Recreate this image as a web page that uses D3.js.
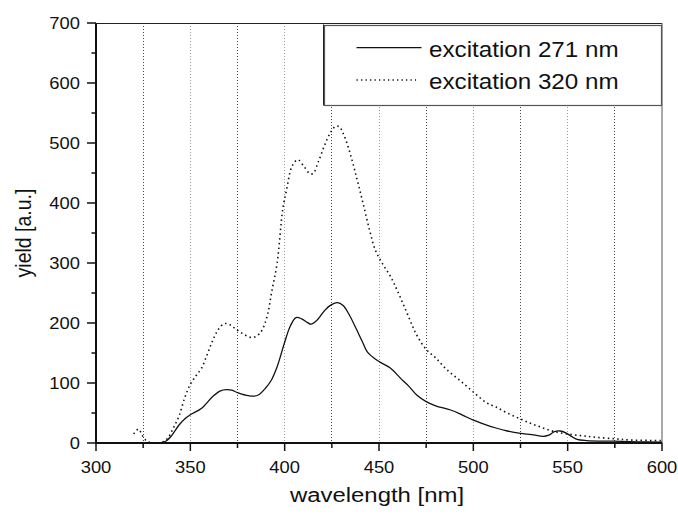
<!DOCTYPE html>
<html><head><meta charset="utf-8">
<script src="https://cdn.jsdelivr.net/npm/d3@7"></script>
<style>body{margin:0;background:#fff}svg{display:block}text{font-family:"Liberation Sans",Arial,sans-serif;fill:#111}</style>
</head><body><svg id="c" width="678" height="516"></svg>
<script>
const xTicks = [300,350,400,450,500,550,600];
const xMinor = [325,375,425,475,525,575];
const yTicks = [0,100,200,300,400,500,600,700];
const yMinor = [50,150,250,350,450,550,650];
const seriesNames = ["excitation 271 nm","excitation 320 nm"];
const wl271 = [300,320,330,334,337,340,344,347,350,356,362,366,369,372,375,379,383,386,390,393,396,400,403,406,409,412,414,417,421,424,428,431,434,438,441,444,448,451,456,462,466,470,475,480,488,494,500,506,512,518,525,531,537,540,543,546,549,552,555,560,574,587,600];
const y271  = [0,0,0,0.5,3,12,30,40,47,58,78,87,89,88,84,80,78,80,92,105,127,168,195,209,207,201,198,204,220,229,234,229,215,190,170,151,140,134,125,106,94,80,69,62,55,47,38,31,25,20,16,14,11,13,19,20,17,11,6,4,3,2,1.5];
const wl320 = [320,322.5,325,327,330,335,338,341,344,347,350,353,356,359,362,365,368,371,374,378,382,385,388,391,393,396,399,401,404,407,410,413,415,418,421,424,427,429,431,434,438,441.5,445,448,452,456,460,466,470,475,480,486,493,500,507,512,518,525,531,537,543,550,558,565,575,583,600];
const y320  = [15,23,10,3,0.5,1,8,25,45,75,98,112,125,148,172,190,199,197,190,182,176,178,188,215,250,300,390,422,462,472,462,450,449,470,495,516,528,527,516,490,444,400,355,322,298,278,252,208,180,156,142,122,104,85,67,60,50,40,32,25,19,15,12,9.5,7,5,4];

const svg = d3.select("#c");
const x = d3.scaleLinear().domain([300,600]).range([96,662]);
const y = d3.scaleLinear().domain([0,700]).range([443,23]);

function stext(g, txt, tx, ty, size, sx, anchor, rot){
  const t = g.append("g").attr("transform",`translate(${tx},${ty}) scale(${sx},1)` + (rot?` rotate(${rot})`:""))
    .append("text").attr("font-size",size).attr("text-anchor",anchor||"start").text(txt);
  return t;
}

// grid
svg.append("g").selectAll("line").data(xMinor.concat(xTicks.slice(1,-1))).join("line")
  .attr("x1",d=>x(d)).attr("x2",d=>x(d)).attr("y1",y(700)).attr("y2",y(0))
  .attr("stroke",d=>xMinor.includes(d)?"#444":"#999").attr("stroke-width",1)
  .attr("stroke-dasharray","1,2").attr("shape-rendering","crispEdges");

// frame
svg.append("line").attr("x1",x(300)).attr("x2",x(600)).attr("y1",y(700)+0.5).attr("y2",y(700)+0.5).attr("stroke","#222").attr("stroke-width",1);
svg.append("line").attr("x1",x(600)).attr("x2",x(600)).attr("y1",y(700)).attr("y2",y(0)).attr("stroke","#555").attr("stroke-width",1);

// curves
const line = d3.line().x(d=>x(d[0])).y(d=>y(d[1])).curve(d3.curveCatmullRom.alpha(0.5));
svg.append("path").datum(wl320.map((w,i)=>[w,y320[i]])).attr("d",line)
  .attr("fill","none").attr("stroke","#111").attr("stroke-width",1.6).attr("stroke-dasharray","1.5,3.2");
svg.append("path").datum(wl271.map((w,i)=>[w,y271[i]])).attr("d",line)
  .attr("fill","none").attr("stroke","#111").attr("stroke-width",1.3);

// axes
const ax = svg.append("g");
ax.selectAll(".xt").data(xTicks).join("line").attr("x1",d=>x(d)).attr("x2",d=>x(d)).attr("y1",y(0)).attr("y2",y(0)+8).attr("stroke","#111").attr("stroke-width",1.5);
ax.selectAll(".xm").data(xMinor).join("line").attr("x1",d=>x(d)).attr("x2",d=>x(d)).attr("y1",y(0)).attr("y2",y(0)+5).attr("stroke","#111").attr("stroke-width",1.5);
ax.selectAll(".yt").data(yTicks).join("line").attr("x1",x(300)-9).attr("x2",x(300)).attr("y1",d=>y(d)).attr("y2",d=>y(d)).attr("stroke","#111").attr("stroke-width",1.5);
ax.selectAll(".ym").data(yMinor).join("line").attr("x1",x(300)-4.5).attr("x2",x(300)).attr("y1",d=>y(d)).attr("y2",d=>y(d)).attr("stroke","#111").attr("stroke-width",1.5);
ax.append("line").attr("x1",x(300)).attr("x2",x(600)).attr("y1",y(0)).attr("y2",y(0)).attr("stroke","#111").attr("stroke-width",2);
ax.append("line").attr("x1",x(300)).attr("x2",x(300)).attr("y1",y(700)).attr("y2",y(0)+1).attr("stroke","#111").attr("stroke-width",2);

xTicks.forEach(v=>stext(svg, String(v), x(v), 473, 17, 1.08, "middle"));
yTicks.forEach(v=>stext(svg, String(v), 80, y(v)+6, 17, 1.08, "end"));

stext(svg, "wavelength [nm]", 377, 502, 21, 1.14, "middle");
stext(svg, "yield [a.u.]", 31, 233, 19.5, 1.09, "middle", -90);

// legend
const lg = svg.append("g");
lg.append("rect").attr("x",324.5).attr("y",25.5).attr("width",337).attr("height",80).attr("fill","#fff").attr("stroke","#555").attr("stroke-width",1.2);
lg.append("line").attr("x1",323.5).attr("x2",323.5).attr("y1",24.5).attr("y2",105.5).attr("stroke","#222").attr("stroke-width",1);
lg.append("line").attr("x1",356.5).attr("x2",421.5).attr("y1",47.7).attr("y2",47.7).attr("stroke","#111").attr("stroke-width",1.3);
lg.append("line").attr("x1",356.5).attr("x2",416).attr("y1",80).attr("y2",80).attr("stroke","#111").attr("stroke-width",1.3).attr("stroke-dasharray","1.3,3.2");
stext(lg, seriesNames[0], 429, 56.5, 22, 1.1, "start");
stext(lg, seriesNames[1], 429, 88.5, 22, 1.1, "start");
</script></body></html>
